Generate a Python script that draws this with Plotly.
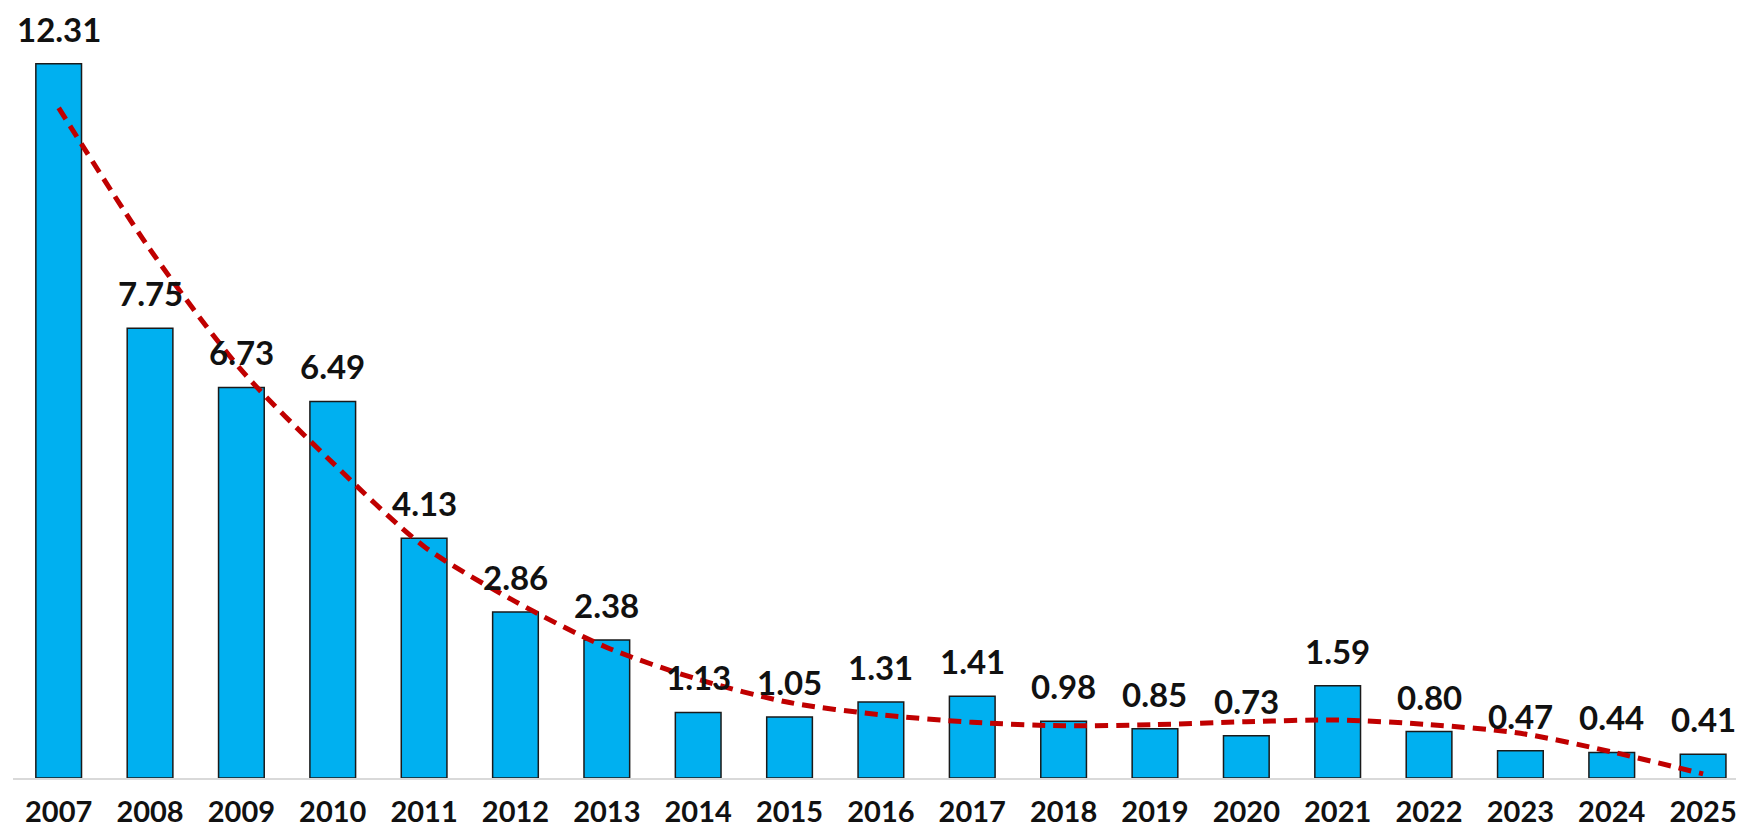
import plotly.graph_objects as go

years = [str(y) for y in range(2007, 2026)]
values = [12.31, 7.75, 6.73, 6.49, 4.13, 2.86, 2.38, 1.13, 1.05, 1.31,
          1.41, 0.98, 0.85, 0.73, 1.59, 0.80, 0.47, 0.44, 0.41]
# trend line at each year
trend = [11.55, 9.11, 7.03, 5.43, 3.99, 3.04, 2.25, 1.70, 1.30, 1.09,
         0.96, 0.90, 0.92, 0.97, 1.00, 0.92, 0.77, 0.45, 0.07]

FONT = "Lato"

fig = go.Figure()
fig.add_trace(go.Bar(
    x=years, y=values,
    marker=dict(color="#00B0F0", line=dict(color="#1a1a1a", width=1.5)),
    hoverinfo="x+y",
))
fig.add_trace(go.Scatter(
    x=years, y=trend, mode="lines",
    line=dict(color="#C00000", width=5, dash="13px,8px", shape="spline", smoothing=0.8),
    hoverinfo="skip",
))

# value labels above the bars (x as category index)
for i, v in enumerate(values):
    fig.add_annotation(
        x=i, y=v, xref="x", yref="y", text=f"{v:.2f}", showarrow=False,
        yanchor="bottom", yshift=13,
        font=dict(family=FONT, size=33, color="#111111", weight="bold"),
    )

# page body has an 8px margin, so the figure is a bit smaller than the window
fig.update_layout(
    width=1728, height=822,
    margin=dict(l=5, r=0, t=0, b=52, autoexpand=False),
    plot_bgcolor="white", paper_bgcolor="white",
    bargap=0.5, showlegend=False,
    xaxis=dict(
        type="category", range=[-0.5, 18.36], automargin=False,
        showline=True, linecolor="#D9D9D9", linewidth=2,
        showgrid=False, ticks="", ticklabelstandoff=7,
        tickfont=dict(family=FONT, size=29, color="#111111", weight="bold"),
    ),
    yaxis=dict(range=[0, 13.27], showticklabels=False, showline=False,
               showgrid=False, zeroline=False, automargin=False),
)

fig.write_html("out.html")
